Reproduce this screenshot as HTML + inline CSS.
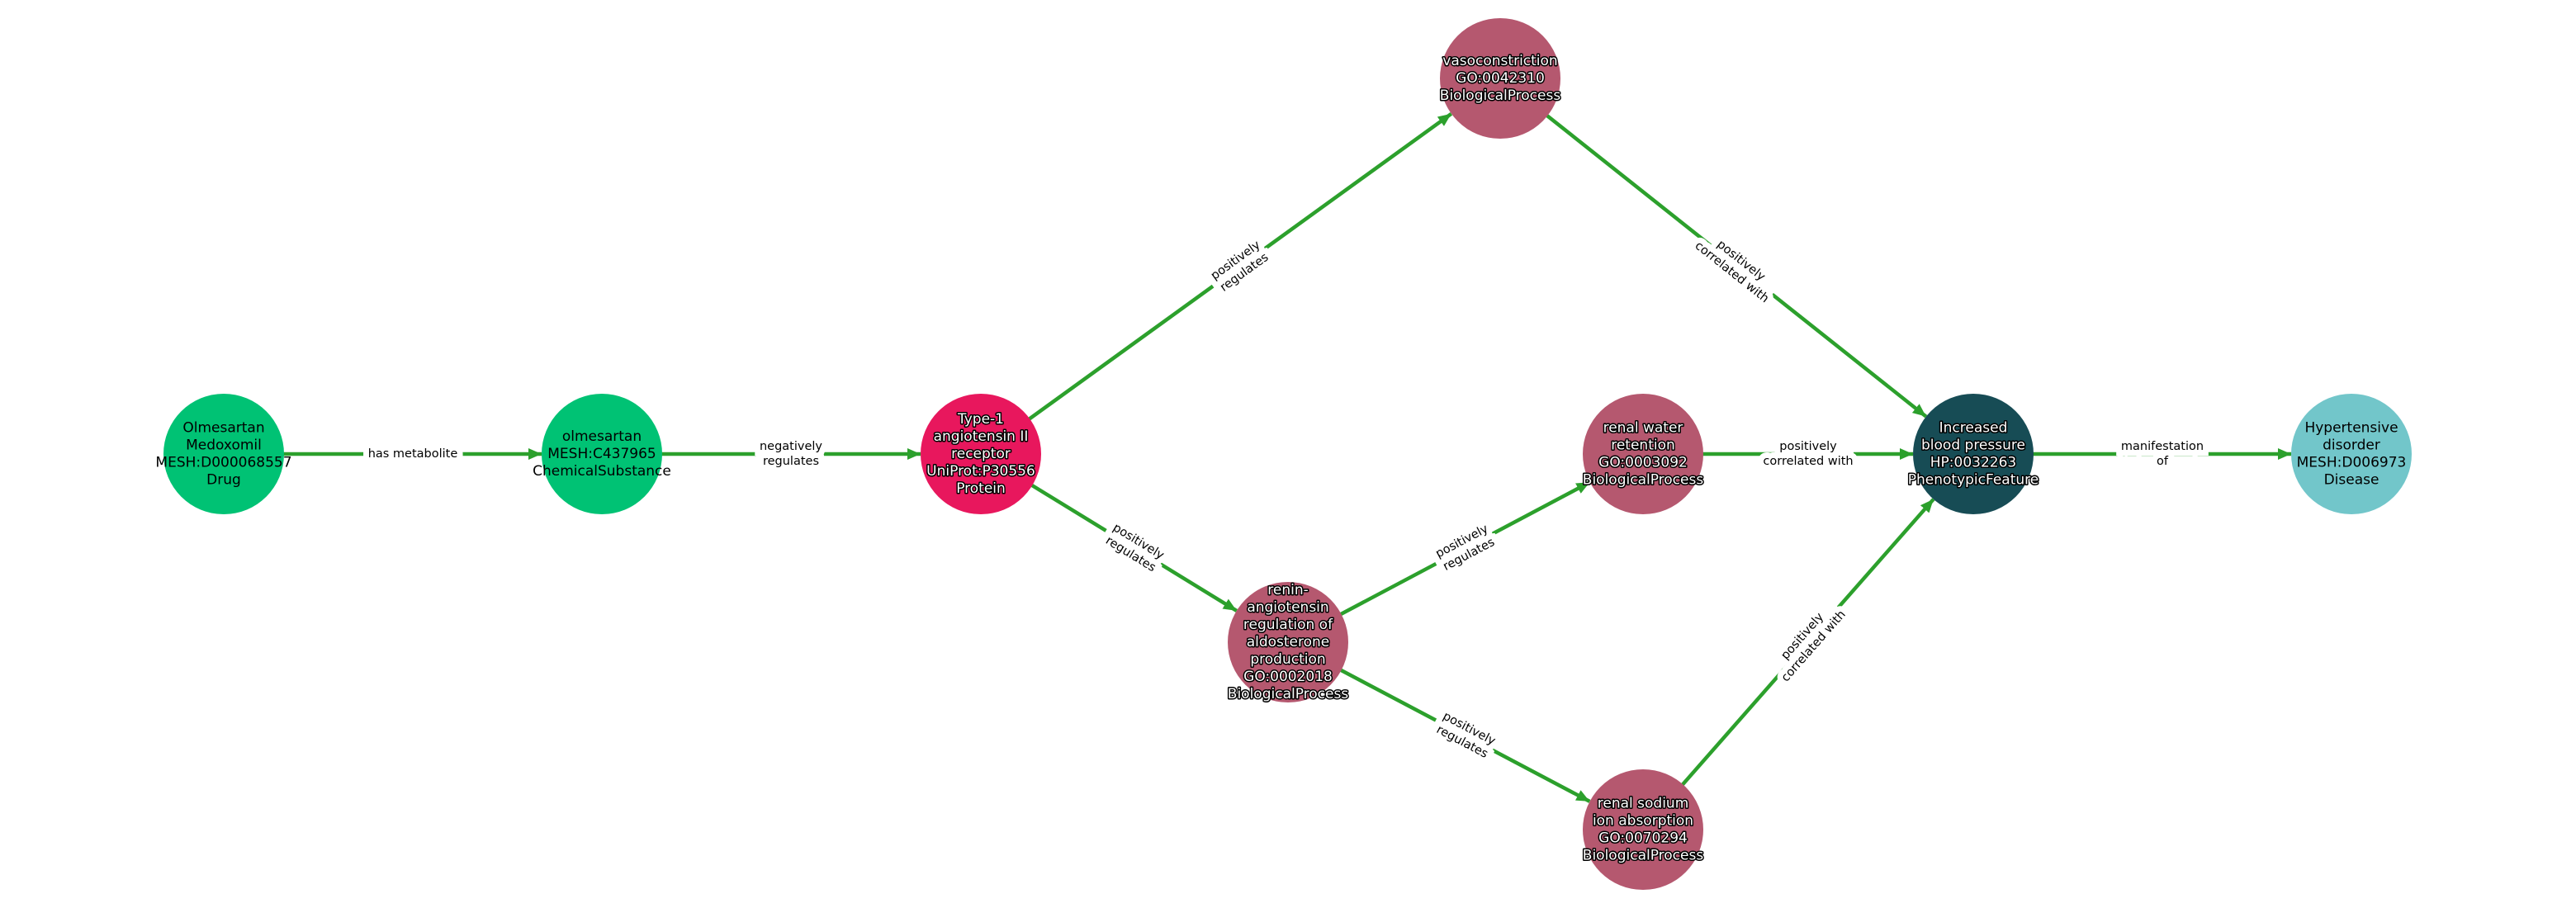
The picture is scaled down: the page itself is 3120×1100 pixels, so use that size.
<!DOCTYPE html>
<html><head><meta charset="utf-8"><style>
html,body{margin:0;padding:0;background:#fff;}
svg{display:block;}
.n{font-family:"DejaVu Sans","Liberation Sans",sans-serif;font-size:17px;text-anchor:middle;dominant-baseline:central;}
.w{fill:#fff;stroke:#000;stroke-width:3px;paint-order:stroke;stroke-linejoin:round;}
.b{fill:#000;}
.e text{font-family:"DejaVu Sans","Liberation Sans",sans-serif;font-size:14.5px;text-anchor:middle;dominant-baseline:central;}
.bg text{fill:#fff;stroke:#fff;stroke-width:14px;stroke-linejoin:miter;}
.fg text{fill:#000;stroke:none;}
.l{stroke:#2ca02c;stroke-width:4.5;fill:none;}
</style></head><body>
<svg width="3120" height="1100" viewBox="0 0 3120 1100" xmlns="http://www.w3.org/2000/svg">
<defs>
<marker id="a" markerUnits="userSpaceOnUse" markerWidth="18" markerHeight="14" refX="16" refY="7" orient="auto">
<path d="M0,0 L16,7 L0,14 Z" fill="#2ca02c"/>
</marker>
</defs>
<g class="l" marker-end="url(#a)">
<line x1="271" y1="550" x2="656" y2="550"/>
<line x1="729" y1="550" x2="1115" y2="550"/>
<line x1="1188" y1="550" x2="1757.8" y2="137.8"/>
<line x1="1188" y1="550" x2="1497.8" y2="739.9"/>
<line x1="1817" y1="95" x2="2332.8" y2="504.6"/>
<line x1="1560" y1="778" x2="1925.5" y2="584.2"/>
<line x1="1560" y1="778" x2="1925.4" y2="970.9"/>
<line x1="1990" y1="1005" x2="2341.8" y2="604.8"/>
<line x1="1990" y1="550" x2="2317" y2="550"/>
<line x1="2390" y1="550" x2="2775" y2="550"/>
</g>
<g class="e bg">
<text x="500" y="550">has metabolite</text>
<text x="958" y="550"><tspan x="958" dy="-9">negatively</tspan><tspan x="958" dy="18">regulates</tspan></text>
<g transform="translate(1502,323) rotate(-35.9)"><text x="0" y="0"><tspan x="0" dy="-9">positively</tspan><tspan x="0" dy="18">regulates</tspan></text></g>
<g transform="translate(1374,664) rotate(31.5)"><text x="0" y="0"><tspan x="0" dy="-9">positively</tspan><tspan x="0" dy="18">regulates</tspan></text></g>
<g transform="translate(2103,323) rotate(38.4)"><text x="0" y="0"><tspan x="0" dy="-9">positively</tspan><tspan x="0" dy="18">correlated with</tspan></text></g>
<g transform="translate(1775,664) rotate(-27.9)"><text x="0" y="0"><tspan x="0" dy="-9">positively</tspan><tspan x="0" dy="18">regulates</tspan></text></g>
<g transform="translate(1775,891) rotate(27.8)"><text x="0" y="0"><tspan x="0" dy="-9">positively</tspan><tspan x="0" dy="18">regulates</tspan></text></g>
<g transform="translate(2190,777) rotate(-48.7)"><text x="0" y="0"><tspan x="0" dy="-9">positively</tspan><tspan x="0" dy="18">correlated with</tspan></text></g>
<text x="2190" y="550"><tspan x="2190" dy="-9">positively</tspan><tspan x="2190" dy="18">correlated with</tspan></text>
<text x="2619" y="550"><tspan x="2619" dy="-9">manifestation</tspan><tspan x="2619" dy="18">of</tspan></text>
</g>
<g class="e fg">
<text x="500" y="550">has metabolite</text>
<text x="958" y="550"><tspan x="958" dy="-9">negatively</tspan><tspan x="958" dy="18">regulates</tspan></text>
<g transform="translate(1502,323) rotate(-35.9)"><text x="0" y="0"><tspan x="0" dy="-9">positively</tspan><tspan x="0" dy="18">regulates</tspan></text></g>
<g transform="translate(1374,664) rotate(31.5)"><text x="0" y="0"><tspan x="0" dy="-9">positively</tspan><tspan x="0" dy="18">regulates</tspan></text></g>
<g transform="translate(2103,323) rotate(38.4)"><text x="0" y="0"><tspan x="0" dy="-9">positively</tspan><tspan x="0" dy="18">correlated with</tspan></text></g>
<g transform="translate(1775,664) rotate(-27.9)"><text x="0" y="0"><tspan x="0" dy="-9">positively</tspan><tspan x="0" dy="18">regulates</tspan></text></g>
<g transform="translate(1775,891) rotate(27.8)"><text x="0" y="0"><tspan x="0" dy="-9">positively</tspan><tspan x="0" dy="18">regulates</tspan></text></g>
<g transform="translate(2190,777) rotate(-48.7)"><text x="0" y="0"><tspan x="0" dy="-9">positively</tspan><tspan x="0" dy="18">correlated with</tspan></text></g>
<text x="2190" y="550"><tspan x="2190" dy="-9">positively</tspan><tspan x="2190" dy="18">correlated with</tspan></text>
<text x="2619" y="550"><tspan x="2619" dy="-9">manifestation</tspan><tspan x="2619" dy="18">of</tspan></text>
</g>
<!-- nodes -->
<circle cx="271" cy="550" r="73" fill="#00c274"/>
<circle cx="729" cy="550" r="73" fill="#00c274"/>
<circle cx="1188" cy="550" r="73" fill="#e8175d"/>
<circle cx="1817" cy="95" r="73" fill="#b5586f"/>
<circle cx="1560" cy="778" r="73" fill="#b5586f"/>
<circle cx="1990" cy="550" r="73" fill="#b5586f"/>
<circle cx="1990" cy="1005" r="73" fill="#b5586f"/>
<circle cx="2390" cy="550" r="73" fill="#174c55"/>
<circle cx="2848" cy="550" r="73" fill="#72c6ca"/>
<text class="n b" x="271" y="550"><tspan x="271" dy="-31.5">Olmesartan</tspan><tspan x="271" dy="21">Medoxomil</tspan><tspan x="271" dy="21">MESH:D000068557</tspan><tspan x="271" dy="21">Drug</tspan></text>
<text class="n b" x="729" y="550"><tspan x="729" dy="-21">olmesartan</tspan><tspan x="729" dy="21">MESH:C437965</tspan><tspan x="729" dy="21">ChemicalSubstance</tspan></text>
<text class="n w" x="1188" y="550"><tspan x="1188" dy="-42">Type-1</tspan><tspan x="1188" dy="21">angiotensin II</tspan><tspan x="1188" dy="21">receptor</tspan><tspan x="1188" dy="21">UniProt:P30556</tspan><tspan x="1188" dy="21">Protein</tspan></text>
<text class="n w" x="1817" y="95"><tspan x="1817" dy="-21">vasoconstriction</tspan><tspan x="1817" dy="21">GO:0042310</tspan><tspan x="1817" dy="21">BiologicalProcess</tspan></text>
<text class="n w" x="1560" y="778"><tspan x="1560" dy="-63">renin-</tspan><tspan x="1560" dy="21">angiotensin</tspan><tspan x="1560" dy="21">regulation of</tspan><tspan x="1560" dy="21">aldosterone</tspan><tspan x="1560" dy="21">production</tspan><tspan x="1560" dy="21">GO:0002018</tspan><tspan x="1560" dy="21">BiologicalProcess</tspan></text>
<text class="n w" x="1990" y="550"><tspan x="1990" dy="-31.5">renal water</tspan><tspan x="1990" dy="21">retention</tspan><tspan x="1990" dy="21">GO:0003092</tspan><tspan x="1990" dy="21">BiologicalProcess</tspan></text>
<text class="n w" x="1990" y="1005"><tspan x="1990" dy="-31.5">renal sodium</tspan><tspan x="1990" dy="21">ion absorption</tspan><tspan x="1990" dy="21">GO:0070294</tspan><tspan x="1990" dy="21">BiologicalProcess</tspan></text>
<text class="n w" x="2390" y="550"><tspan x="2390" dy="-31.5">Increased</tspan><tspan x="2390" dy="21">blood pressure</tspan><tspan x="2390" dy="21">HP:0032263</tspan><tspan x="2390" dy="21">PhenotypicFeature</tspan></text>
<text class="n b" x="2848" y="550"><tspan x="2848" dy="-31.5">Hypertensive</tspan><tspan x="2848" dy="21">disorder</tspan><tspan x="2848" dy="21">MESH:D006973</tspan><tspan x="2848" dy="21">Disease</tspan></text>
</svg>
</body></html>
